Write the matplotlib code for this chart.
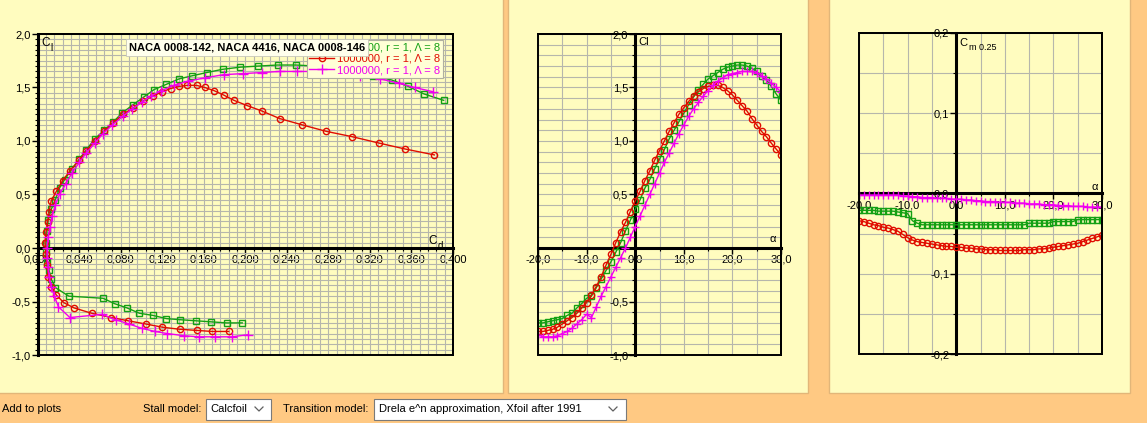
import matplotlib
matplotlib.use('Agg')
import matplotlib.pyplot as plt
from matplotlib.patches import Rectangle
from matplotlib.lines import Line2D
from matplotlib.ticker import MultipleLocator, FuncFormatter

plt.rcParams['font.family'] = ['Liberation Sans', 'DejaVu Sans']

# angle of attack, one point per degree
alpha = list(range(-20, 31))

# series 1 (green squares)
cl_green = [-0.70, -0.70, -0.69, -0.68, -0.67, -0.66, -0.63, -0.61, -0.56, -0.52,
            -0.47, -0.45, -0.37, -0.29, -0.21, -0.13, -0.04, 0.05, 0.16, 0.26,
            0.36, 0.45, 0.56, 0.64, 0.74, 0.83, 0.92, 1.02, 1.10, 1.18,
            1.26, 1.34, 1.41, 1.48, 1.53, 1.58, 1.61, 1.64, 1.67, 1.69,
            1.70, 1.71, 1.71, 1.70, 1.68, 1.65, 1.61, 1.57, 1.51, 1.44, 1.38]
cd_green = [0.197, 0.182, 0.167, 0.152, 0.137, 0.124, 0.111, 0.098, 0.086, 0.074,
            0.063, 0.030, 0.017, 0.013, 0.011, 0.009, 0.008, 0.008, 0.009, 0.010,
            0.013, 0.017, 0.021, 0.026, 0.033, 0.040, 0.047, 0.055, 0.064, 0.073,
            0.081, 0.092, 0.102, 0.112, 0.124, 0.136, 0.149, 0.163, 0.178, 0.195,
            0.212, 0.231, 0.249, 0.268, 0.287, 0.305, 0.323, 0.341, 0.357, 0.372, 0.391]
cm_green = [-0.021, -0.021, -0.021, -0.021, -0.022, -0.022, -0.022, -0.022, -0.023, -0.024,
            -0.025, -0.034, -0.037, -0.039, -0.039, -0.039, -0.039, -0.039, -0.039, -0.039,
            -0.039, -0.039, -0.039, -0.039, -0.039, -0.039, -0.039, -0.039, -0.039, -0.039,
            -0.039, -0.039, -0.039, -0.039, -0.039, -0.037, -0.037, -0.037, -0.037, -0.037,
            -0.035, -0.035, -0.035, -0.035, -0.035, -0.0325, -0.0325, -0.0325, -0.0325, -0.0325, -0.0325]

# series 2 (red circles)
cl_red = [-0.78, -0.78, -0.77, -0.76, -0.74, -0.71, -0.68, -0.65, -0.61, -0.56,
          -0.51, -0.44, -0.36, -0.27, -0.16, -0.06, 0.05, 0.15, 0.24, 0.34,
          0.44, 0.53, 0.63, 0.72, 0.82, 0.91, 1.00, 1.09, 1.17, 1.25,
          1.31, 1.37, 1.42, 1.46, 1.49, 1.51, 1.52, 1.52, 1.50, 1.47,
          1.43, 1.38, 1.33, 1.28, 1.21, 1.15, 1.09, 1.04, 0.98, 0.925, 0.87]
cd_red = [0.184, 0.168, 0.153, 0.137, 0.120, 0.104, 0.087, 0.071, 0.052, 0.035,
          0.025, 0.018, 0.013, 0.010, 0.009, 0.008, 0.007, 0.008, 0.0095, 0.011,
          0.013, 0.018, 0.024, 0.031, 0.040, 0.047, 0.055, 0.064, 0.073, 0.082,
          0.092, 0.101, 0.111, 0.120, 0.128, 0.136, 0.144, 0.153, 0.161, 0.170,
          0.179, 0.189, 0.202, 0.216, 0.233, 0.255, 0.278, 0.303, 0.329, 0.354, 0.382]
cm_red = [-0.034, -0.035, -0.037, -0.039, -0.040, -0.042, -0.043, -0.045, -0.047, -0.051,
          -0.055, -0.058, -0.060, -0.061, -0.062, -0.063, -0.064, -0.065, -0.066, -0.066,
          -0.067, -0.067, -0.068, -0.068, -0.069, -0.069, -0.070, -0.070, -0.070, -0.071,
          -0.071, -0.071, -0.071, -0.071, -0.070, -0.070, -0.070, -0.069, -0.069, -0.068,
          -0.067, -0.066, -0.065, -0.064, -0.063, -0.062, -0.060, -0.058, -0.056, -0.054, -0.052]

# series 3 (magenta crosses)
cl_mag = [-0.81, -0.83, -0.83, -0.83, -0.82, -0.80, -0.78, -0.75, -0.71, -0.67,
          -0.62, -0.65, -0.55, -0.45, -0.36, -0.27, -0.18, -0.09, 0.00, 0.10,
          0.20, 0.30, 0.40, 0.50, 0.60, 0.70, 0.80, 0.89, 0.98, 1.07,
          1.15, 1.23, 1.30, 1.36, 1.42, 1.47, 1.52, 1.56, 1.59, 1.62,
          1.63, 1.64, 1.65, 1.65, 1.65, 1.64, 1.61, 1.58, 1.54, 1.50, 1.46]
cd_mag = [0.203, 0.187, 0.171, 0.155, 0.141, 0.125, 0.113, 0.100, 0.088, 0.075,
          0.062, 0.031, 0.020, 0.016, 0.013, 0.011, 0.010, 0.009, 0.009, 0.010,
          0.012, 0.014, 0.017, 0.021, 0.027, 0.033, 0.040, 0.047, 0.055, 0.063,
          0.072, 0.082, 0.091, 0.100, 0.109, 0.119, 0.131, 0.145, 0.161, 0.179,
          0.198, 0.216, 0.233, 0.250, 0.270, 0.290, 0.310, 0.330, 0.348, 0.363, 0.381]
cm_mag = [-0.002, -0.002, -0.002, -0.002, -0.002, -0.002, -0.002, -0.002, -0.002, -0.003,
          -0.003, -0.004, -0.004, -0.005, -0.005, -0.005, -0.006, -0.006, -0.006, -0.007,
          -0.007, -0.007, -0.008, -0.008, -0.009, -0.009, -0.010, -0.010, -0.010, -0.011,
          -0.011, -0.011, -0.012, -0.012, -0.012, -0.013, -0.013, -0.013, -0.014, -0.014,
          -0.014, -0.015, -0.015, -0.015, -0.016, -0.016, -0.016, -0.017, -0.017, -0.017, -0.017]

series_label = '1000000, r = 1, \u039b = 8'
title = 'NACA 0008-142, NACA 4416, NACA 0008-146'

# tick values
polar_xticks = [0.0, 0.04, 0.08, 0.12, 0.16, 0.2, 0.24, 0.28, 0.32, 0.36, 0.4]
polar_yticks = [-1.0, -0.5, 0.0, 0.5, 1.0, 1.5, 2.0]
alpha_xticks = [-20, -10, 0, 10, 20, 30]
cl_yticks = [-1.0, -0.5, 0.5, 1.0, 1.5, 2.0]
cm_yticks = [-0.2, -0.1, 0.0, 0.1, 0.2]

W, H = 1147, 423
orange = '#FFC983'
yellow = '#FFFCBF'
grid_c = '#B6B6AC'
c_green = '#14A014'
c_red = '#E00C00'
c_mag = '#F000F0'

fig = plt.figure(figsize=(W / 100, H / 100), dpi=100)
fig.patch.set_facecolor(orange)


def px_rect(x0, y0, x1, y1, **kw):
    # rectangle given in picture pixels (top-left origin)
    r = Rectangle((x0 / W, 1 - y1 / H), (x1 - x0) / W, (y1 - y0) / H,
                  transform=fig.transFigure, **kw)
    fig.add_artist(r)
    return r


# panels
px_rect(-2, -2, 503, 393, facecolor=yellow, edgecolor='#E2B679', lw=1, zorder=-1)
px_rect(508, -2, 808, 393, facecolor=yellow, edgecolor='#E2B679', lw=1, zorder=-1)
px_rect(829, -2, 1130, 393, facecolor=yellow, edgecolor='#E2B679', lw=1, zorder=-1)


def make_axes(x0, y0, x1, y1):
    return fig.add_axes([x0 / W, 1 - y1 / H, (x1 - x0) / W, (y1 - y0) / H])


def comma(fmt):
    def f(v, p):
        s = fmt.format(v)
        if s.startswith('-') and float(s) == 0:
            s = s[1:]
        return s.replace('.', ',')
    return FuncFormatter(f)


def style(ax, xmaj, ymaj, xmin, ymin, xfmt, yfmt):
    ax.set_facecolor(yellow)
    ax.spines['left'].set_position(('data', 0))
    ax.spines['bottom'].set_position(('data', 0))
    ax.spines['left'].set_linewidth(2.2)
    ax.spines['bottom'].set_linewidth(2.2)
    for s in ['top', 'right']:
        ax.spines[s].set_linewidth(1.4)
    ax.add_patch(Rectangle((0, 0), 1, 1, transform=ax.transAxes, fill=False,
                           ec='black', lw=1.4, clip_on=False, zorder=4))
    ax.set_xticks(xmaj)
    ax.set_yticks(ymaj)
    ax.xaxis.set_minor_locator(MultipleLocator(xmin))
    ax.yaxis.set_minor_locator(MultipleLocator(ymin))
    ax.xaxis.set_major_formatter(comma(xfmt))
    ax.yaxis.set_major_formatter(comma(yfmt))
    ax.tick_params(which='major', direction='out', length=4, width=1,
                   labelsize=8, pad=1)
    ax.tick_params(which='minor', direction='out', length=2, width=0.8)
    ax.grid(True, which='both', color=grid_c, lw=0.8)
    ax.set_axisbelow(True)


def sub_label(ax, x, y, main, sub, size=8.5):
    # letter with a lowered, smaller suffix
    t = ax.text(x, y, main, transform=ax.transAxes, fontsize=size, va='top', ha='left')
    ax.annotate(sub, xy=(1, 0), xycoords=t, xytext=(0.5, -3),
                textcoords='offset points', fontsize=size - 1.5, va='bottom', ha='left')


# ---- polar Cl vs Cd
ax1 = make_axes(37.7, 34, 453, 355)
l1, = ax1.plot(cd_green, cl_green, '-s', color=c_green, mfc='none', ms=4.5, lw=1, mew=1, zorder=3)
l2, = ax1.plot(cd_red, cl_red, '-o', color=c_red, mfc='none', ms=4.5, lw=1, mew=1, zorder=3)
l3, = ax1.plot(cd_mag, cl_mag, '-+', color=c_mag, ms=7, lw=1, mew=1, zorder=3)
ax1.set_xlim(0, 0.4)
ax1.set_ylim(-1, 2)
style(ax1, polar_xticks, polar_yticks, 0.008, 0.05, '{:.3f}', '{:.1f}')
sub_label(ax1, 0.008, 0.99, 'C', 'l')
sub_label(ax1, 0.94, 0.375, 'C', 'd')
leg = ax1.legend([l1, l2, l3], [series_label] * 3, loc='upper right',
                 bbox_to_anchor=(0.976, 0.981), fontsize=8, frameon=True,
                 fancybox=False, edgecolor='#B0B0A0', facecolor='#FFFFD6',
                 framealpha=1, borderpad=0.25, labelspacing=0.1,
                 handlelength=2.2, handletextpad=0.3, borderaxespad=0)
leg.get_frame().set_linewidth(0.8)
for t, c in zip(leg.get_texts(), [c_green, c_red, c_mag]):
    t.set_color(c)
ax1.text(0.219, 0.958, title, transform=ax1.transAxes, fontsize=8,
         fontweight='bold', va='center', ha='left', zorder=10,
         bbox=dict(facecolor='#FFFFEC', edgecolor='#C8C8B8', lw=0.6, pad=2.2))

# ---- Cl vs alpha
ax2 = make_axes(538, 34, 781, 355)
ax2.plot(alpha, cl_green, '-s', color=c_green, mfc='none', ms=4.5, lw=1, mew=1, zorder=3)
ax2.plot(alpha, cl_red, '-o', color=c_red, mfc='none', ms=4.5, lw=1, mew=1, zorder=3)
ax2.plot(alpha, cl_mag, '-+', color=c_mag, ms=6, lw=1, mew=1, zorder=3)
ax2.set_xlim(-20, 30)
ax2.set_ylim(-1, 2)
style(ax2, alpha_xticks, cl_yticks, 5, 0.1, '{:.1f}', '{:.1f}')
ax2.text(0.415, 0.99, 'Cl', transform=ax2.transAxes, fontsize=8, va='top', ha='left')
ax2.text(0.965, 0.345, '\u03b1', transform=ax2.transAxes, fontsize=8, va='bottom', ha='center')

# ---- Cm vs alpha
ax3 = make_axes(859, 33, 1102, 354)
ax3.plot(alpha, cm_green, '-s', color=c_green, mfc='none', ms=4.5, lw=1, mew=1, zorder=3)
ax3.plot(alpha, cm_red, '-o', color=c_red, mfc='none', ms=4.5, lw=1, mew=1, zorder=3)
ax3.plot(alpha, cm_mag, '-+', color=c_mag, ms=6, lw=1, mew=1, zorder=3)
ax3.set_xlim(-20, 30)
ax3.set_ylim(-0.2, 0.2)
style(ax3, alpha_xticks, cm_yticks, 5, 0.05, '{:.1f}', '{:.1f}')
sub_label(ax3, 0.415, 0.985, 'C', 'm 0.25', size=8)
ax3.text(0.97, 0.505, '\u03b1', transform=ax3.transAxes, fontsize=8, va='bottom', ha='center')

# ---- bottom tool bar
yb = 1 - 409 / H
fig.text(2 / W, yb, 'Add to plots', fontsize=8, va='center', ha='left')
fig.text(201 / W, yb, 'Stall model:', fontsize=8, va='center', ha='right')
fig.text(368 / W, yb, 'Transition model:', fontsize=8, va='center', ha='right')
px_rect(206, 399, 271, 420, facecolor='white', edgecolor='#7A7A7A', lw=0.8, zorder=1)
px_rect(374, 399, 626, 420, facecolor='white', edgecolor='#7A7A7A', lw=0.8, zorder=1)
fig.text(210 / W, yb, 'Calcfoil', fontsize=8, va='center', ha='left', zorder=2)
fig.text(379 / W, yb, 'Drela e^n approximation, Xfoil after 1991', fontsize=8,
         va='center', ha='left', zorder=2)
for cx in (259, 613):
    fig.add_artist(Line2D([(cx - 4) / W, cx / W, (cx + 4) / W],
                          [1 - 407 / H, 1 - 411 / H, 1 - 407 / H],
                          transform=fig.transFigure, color='#606060', lw=0.9, zorder=2))

fig.savefig('out.png', dpi=100, facecolor=fig.get_facecolor())
